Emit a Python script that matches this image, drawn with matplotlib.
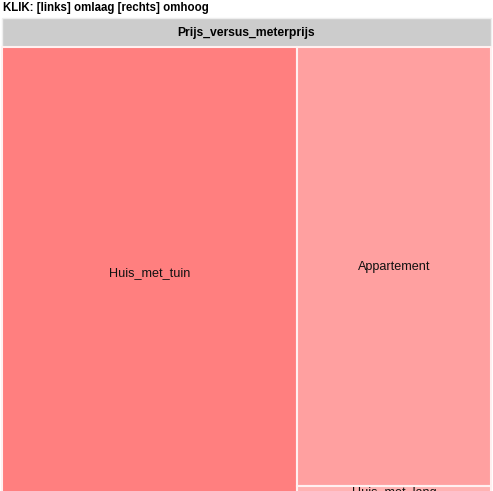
import matplotlib
matplotlib.use("Agg")
import matplotlib.pyplot as plt
from matplotlib.patches import Rectangle

# ---- data ----
title_text = "KLIK: [links] omlaag [rechts] omhoog"
root_label = "Prijs_versus_meterprijs"
categories = ["Huis_met_tuin", "Appartement", "Huis_met_lang"]
values = [603, 386, 11]
colors = ["#FF7F7F", "#FFA0A0", "#FFB3B3"]

W, H = 493, 491
fig = plt.figure(figsize=(W / 100, H / 100), dpi=100)
ax = fig.add_axes([0, 0, 1, 1])
ax.set_xlim(0, W)
ax.set_ylim(H, 0)
ax.axis("off")
plt.rcParams['font.family'] = ['Liberation Sans', 'DejaVu Sans']


def worst(row, w):
    s = sum(row)
    return max(max(w * w * r / (s * s), (s * s) / (w * w * r)) for r in row)


def squarify(vals, x, y, dx, dy):
    total = sum(vals)
    scaled = [v * dx * dy / total for v in vals]
    rects = []
    while scaled:
        w = min(dx, dy)
        row = [scaled[0]]
        i = 1
        while i < len(scaled) and worst(row + [scaled[i]], w) <= worst(row, w):
            row.append(scaled[i])
            i += 1
        s = sum(row)
        if dx >= dy:  # column on the left
            cw = s / dy
            yy = y
            for r in row:
                h = r / cw
                rects.append((x, yy, cw, h))
                yy += h
            x += cw
            dx -= cw
        else:  # row on top
            rh = s / dx
            xx = x
            for r in row:
                ww = r / rh
                rects.append((xx, y, ww, rh))
                xx += ww
            y += rh
            dy -= rh
        scaled = scaled[i:]
    return rects


# title
ax.text(3, 8, title_text, fontsize=8.3, fontweight="bold", ha="left", va="center", color="black")

# header bar
ax.add_patch(Rectangle((2, 18), 489, 29, facecolor="#CCCCCC", edgecolor="#EEEEEE", lw=1))
ax.text(2 + 489 / 2, 32.5, root_label, fontsize=8.7, fontweight="bold", ha="center", va="center", color="black")

# treemap region (extends slightly beyond the visible canvas)
rects = squarify(values, 2, 47, 489, 451)
for (rx, ry, rw, rh), lab, c in zip(rects, categories, colors):
    ax.add_patch(Rectangle((rx, ry), rw, rh, facecolor=c, edgecolor="#FFF0F0", lw=1.5))
    ax.text(rx + rw / 2, ry + rh / 2 + 1, lab, fontsize=9.1, ha="center", va="center", color="#111111")

fig.savefig("out.png", dpi=100)
